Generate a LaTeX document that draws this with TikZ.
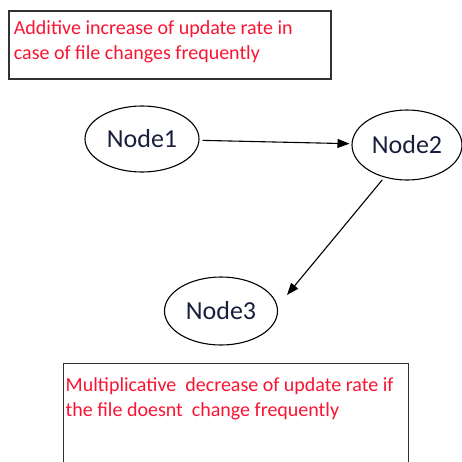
\documentclass[tikz,border=0pt]{standalone}
\usepackage{fontspec}
\setmainfont{Carlito}
\usetikzlibrary{shapes.geometric,arrows.meta}
\definecolor{notered}{RGB}{250,20,50}
\definecolor{nodeink}{RGB}{25,30,60}
\definecolor{boxgray}{RGB}{50,50,50}

\begin{document}
\begin{tikzpicture}[x=1pt,y=-1pt,
    peer/.style={ellipse,draw,line width=1.1pt,inner sep=0pt,text=nodeink,font=\fontsize{26}{30}\selectfont},
    notebox/.style={draw=boxgray,anchor=north west,align=flush left,text=notered,font=\fontsize{20}{25}\selectfont},
    flow/.style={-{Triangle[length=12pt,width=9pt]},line width=1.1pt}]
			\useasboundingbox (0,0) rectangle (462,461);
			\node[notebox,line width=1.8pt,text width=312pt,inner xsep=5pt,inner ysep=10pt] (incnote) at (8,10)
			  {Additive increase of update rate in\\case of file changes frequently\par\vspace*{6pt}};
			\node[peer,minimum width=114pt,minimum height=66pt] (n1) at (142,139) {Node1};
			\node[peer,minimum width=110pt,minimum height=70pt] (n2) at (407,145) {Node2};
			\node[peer,minimum width=113pt,minimum height=68pt] (n3) at (221,311) {Node3};
			\coordinate (n3tip) at (287,295);
			\node[notebox,line width=1.4pt,text width=341pt,inner xsep=2pt,inner ysep=14pt] (decnote) at (63,363)
			  {Multiplicative\ \ decrease of update rate if\\the file doesnt\ \ change frequently\par\vspace*{60pt}};
			\path[flow]
			(n1) edge[shorten <=3pt,shorten >=2pt] (n2)
			(n2.235) edge[shorten <=3pt] (n3tip);
		\end{tikzpicture}
\end{document}
